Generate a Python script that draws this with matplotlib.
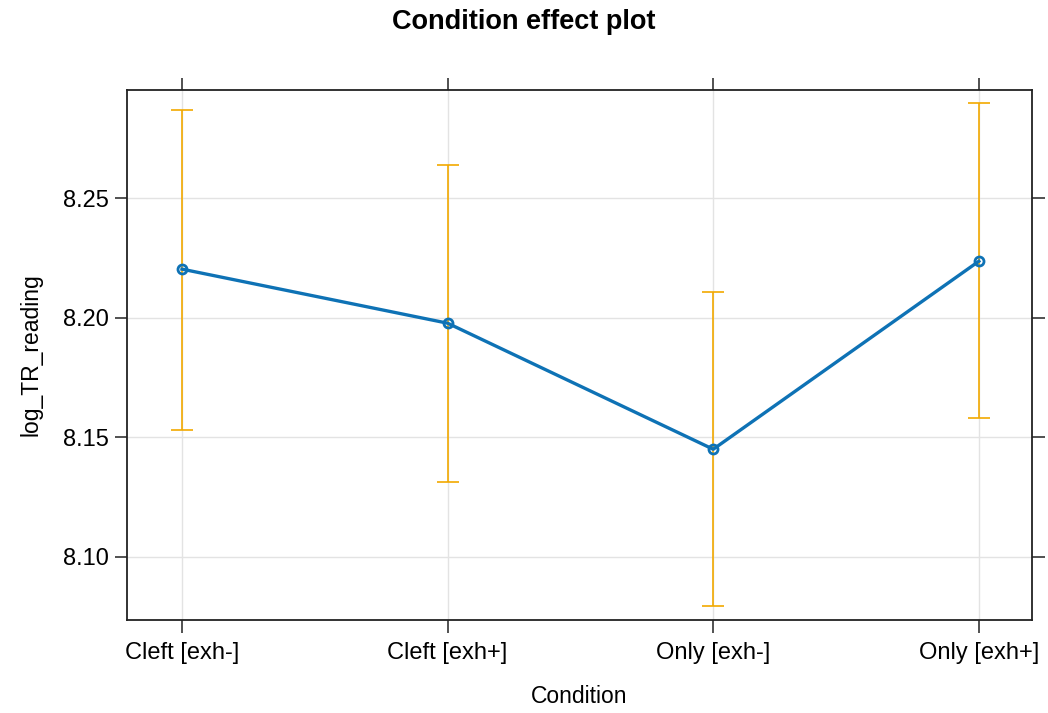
import matplotlib
matplotlib.use("Agg")
import matplotlib.pyplot as plt

conditions = ["Cleft [exh-]", "Cleft [exh+]", "Only [exh-]", "Only [exh+]"]
fit = [8.2203, 8.1977, 8.1450, 8.2236]
lower = [8.1529, 8.1312, 8.0793, 8.1579]
upper = [8.2868, 8.2638, 8.2107, 8.2897]
yticks = [8.10, 8.15, 8.20, 8.25]

plt.rcParams['font.family'] = ['Liberation Sans', 'DejaVu Sans']

fig = plt.figure(figsize=(10.48, 7.13), dpi=100)
ax = fig.add_axes([0.1212, 0.1304, 0.8635, 0.7434])

x = list(range(len(conditions)))
ax.grid(True, color='#e3e3e3', linewidth=1.0)
ax.set_axisbelow(True)

yerr = [[f - l for f, l in zip(fit, lower)], [u - f for f, u in zip(fit, upper)]]
ax.errorbar(x, fit, yerr=yerr, fmt='none', ecolor='#F2A900', elinewidth=1.2,
            capsize=8, capthick=1.2, zorder=2)
ax.plot(x, fit, color='#0E72B5', linewidth=2.4, marker='o', markersize=6.5,
        markerfacecolor='none', markeredgewidth=2, zorder=3)

ax.set_xlim(-0.207, 3.2)
ax.set_ylim(8.0736, 8.2952)
ax.set_xticks(x)
ax.set_xticklabels(conditions)
ax.set_yticks(yticks)
ax.set_yticklabels([f"{v:.2f}" for v in yticks])
ax.tick_params(axis='both', which='both', direction='out', length=9, width=1.2,
               labelsize=17, top=True, right=True, labeltop=False, labelright=False,
               color='#333333', pad=4)
ax.tick_params(axis='x', pad=7)
for s in ax.spines.values():
    s.set_linewidth(1.3)
    s.set_color('#222222')

ax.set_xlabel("Condition", fontsize=16.5, labelpad=15)
ax.set_ylabel("log_TR_reading", fontsize=16.5, labelpad=15)
fig.suptitle("Condition effect plot", fontsize=19.5, fontweight='bold', y=0.988)

fig.savefig("out.png", dpi=100)
